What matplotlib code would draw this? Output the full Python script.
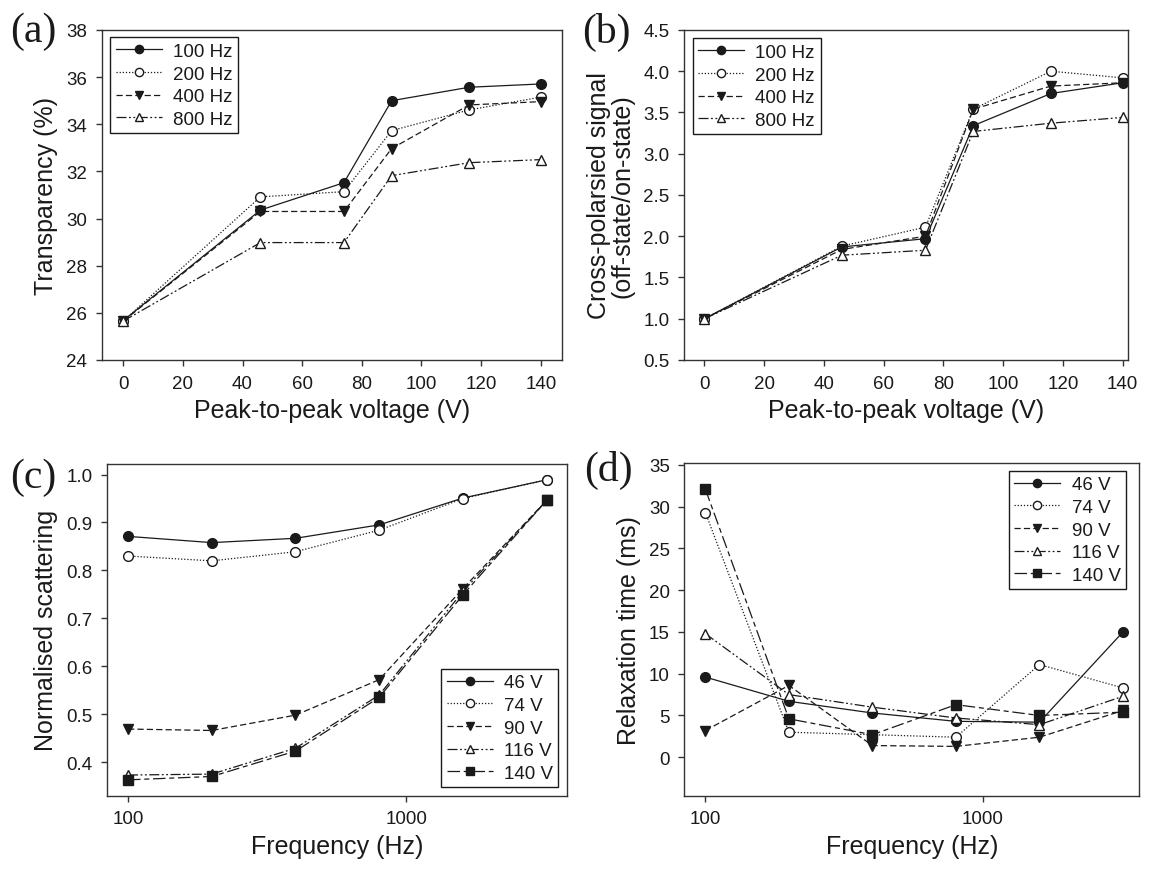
import matplotlib
matplotlib.use("Agg")
import matplotlib.pyplot as plt
from matplotlib.ticker import FixedLocator, FixedFormatter, NullLocator, FormatStrFormatter

# ---------------- data ----------------
voltage = [0, 46, 74, 90, 116, 140]
trans_100 = [25.67, 30.36, 31.52, 35.00, 35.57, 35.71]
trans_200 = [25.65, 30.92, 31.14, 33.73, 34.61, 35.15]
trans_400 = [25.65, 30.30, 30.30, 32.97, 34.82, 34.96]
trans_800 = [25.65, 28.98, 28.98, 31.82, 32.37, 32.50]

cross_100 = [1.00, 1.87, 1.97, 3.34, 3.73, 3.86]
cross_200 = [1.00, 1.88, 2.11, 3.54, 4.00, 3.92]
cross_400 = [1.00, 1.84, 2.00, 3.54, 3.82, 3.86]
cross_800 = [1.00, 1.77, 1.83, 3.27, 3.37, 3.44]

freq = [100, 200, 400, 800, 1600, 3200]
scat_46 = [0.871, 0.858, 0.867, 0.895, 0.951, 0.989]
scat_74 = [0.830, 0.820, 0.839, 0.884, 0.950, 0.989]
scat_90 = [0.469, 0.466, 0.498, 0.572, 0.762, 0.946]
scat_116 = [0.373, 0.375, 0.429, 0.540, 0.756, 0.946]
scat_140 = [0.363, 0.370, 0.423, 0.535, 0.749, 0.946]

relax_46 = [9.6, 6.7, 5.3, 4.3, 4.2, 15.0]
relax_74 = [29.3, 3.0, 2.7, 2.4, 11.1, 8.3]
relax_90 = [3.2, 8.6, 1.4, 1.3, 2.4, 5.6]
relax_116 = [14.8, 7.5, 6.0, 4.7, 3.9, 7.3]
relax_140 = [32.1, 4.6, 2.7, 6.3, 5.0, 5.4]

freq_labels = ["100 Hz", "200 Hz", "400 Hz", "800 Hz"]
volt_labels = ["46 V", "74 V", "90 V", "116 V", "140 V"]

# ---------------- style ----------------
plt.rcParams['font.family'] = ['Liberation Sans', 'DejaVu Sans']
INK = '#1a1a1a'
SPINE = '#333333'

styles = [
    dict(ls='-', marker='o', mfc=INK),
    dict(ls=(0, (1, 1.5)), marker='o', mfc='white'),
    dict(ls=(0, (5, 2.5)), marker='v', mfc=INK),
    dict(ls=(0, (8, 2, 1.5, 2, 1.5, 2)), marker='^', mfc='white'),
    dict(ls=(0, (10, 3, 4, 3)), marker='s', mfc=INK),
]

fig = plt.figure(figsize=(11.51, 8.70), dpi=100)
pos = {
    'a': [0.0884, 0.5851, 0.4001, 0.3793],
    'b': [0.5944, 0.5851, 0.3856, 0.3793],
    'c': [0.0932, 0.0843, 0.3992, 0.3812],
    'd': [0.5947, 0.0843, 0.3949, 0.3820],
}


def style_axes(ax):
    for s in ax.spines.values():
        s.set_color(SPINE)
        s.set_linewidth(1.0)
    ax.tick_params(direction='out', length=4.5, width=1.0, color=SPINE,
                   labelsize=13.5, labelcolor=INK, top=False, right=False)
    ax.tick_params(axis='x', pad=6)
    ax.tick_params(axis='y', pad=6)


def draw(ax, x, series, labels):
    for i, (y, lab) in enumerate(zip(series, labels)):
        st = styles[i]
        ax.plot(x, y, color=INK, lw=0.9, ls=st['ls'], marker=st['marker'],
                ms=7.0, mfc=st['mfc'], mec=INK, mew=1.0, label=lab)


def legend(ax, loc, anchor):
    leg = ax.legend(loc=loc, bbox_to_anchor=anchor, fontsize=13.5,
                    frameon=True, fancybox=False, framealpha=1,
                    edgecolor=INK, handlelength=2.45, handletextpad=0.6,
                    labelspacing=0.29, borderpad=0.3, borderaxespad=0.0,
                    markerscale=0.85)
    leg.get_frame().set_linewidth(1.0)
    for t in leg.get_texts():
        t.set_color(INK)
    return leg


# (a)
ax = fig.add_axes(pos['a'])
draw(ax, voltage, [trans_100, trans_200, trans_400, trans_800], freq_labels)
ax.set_xlim(-7.2, 147.2)
ax.set_ylim(24, 38)
ax.set_xticks(range(0, 141, 20))
ax.set_yticks(range(24, 39, 2))
ax.set_xlabel("Peak-to-peak voltage (V)", fontsize=18, color=INK, labelpad=5)
ax.set_ylabel("Transparency (%)", fontsize=18, color=INK, labelpad=6)
style_axes(ax)
legend(ax, 'upper left', (0.018, 0.978))

# (b)
ax = fig.add_axes(pos['b'])
draw(ax, voltage, [cross_100, cross_200, cross_400, cross_800], freq_labels)
ax.set_xlim(-6.8, 141.8)
ax.set_ylim(0.5, 4.5)
ax.set_xticks(range(0, 141, 20))
ax.set_yticks([0.5, 1.0, 1.5, 2.0, 2.5, 3.0, 3.5, 4.0, 4.5])
ax.yaxis.set_major_formatter(FormatStrFormatter('%.1f'))
ax.set_xlabel("Peak-to-peak voltage (V)", fontsize=18, color=INK, labelpad=5)
ax.set_ylabel("Cross-polarsied signal\n(off-state/on-state)", fontsize=18,
              color=INK, labelpad=6, linespacing=1.0)
style_axes(ax)
legend(ax, 'upper left', (0.019, 0.975))

# (c)
ax = fig.add_axes(pos['c'])
draw(ax, freq, [scat_46, scat_74, scat_90, scat_116, scat_140], volt_labels)
ax.set_xscale('log')
ax.set_xlim(84.2, 3780)
ax.set_ylim(0.33, 1.022)
ax.xaxis.set_major_locator(FixedLocator([100, 1000]))
ax.xaxis.set_major_formatter(FixedFormatter(["100", "1000"]))
ax.xaxis.set_minor_locator(NullLocator())
ax.set_yticks([0.4, 0.5, 0.6, 0.7, 0.8, 0.9, 1.0])
ax.yaxis.set_major_formatter(FormatStrFormatter('%.1f'))
ax.set_xlabel("Frequency (Hz)", fontsize=18, color=INK, labelpad=5)
ax.set_ylabel("Normalised scattering", fontsize=18, color=INK, labelpad=6)
style_axes(ax)
legend(ax, 'lower right', (0.982, 0.025))

# (d)
ax = fig.add_axes(pos['d'])
draw(ax, freq, [relax_46, relax_74, relax_90, relax_116, relax_140], volt_labels)
ax.set_xscale('log')
ax.set_xlim(84.1, 3657)
ax.set_ylim(-4.6, 35.2)
ax.xaxis.set_major_locator(FixedLocator([100, 1000]))
ax.xaxis.set_major_formatter(FixedFormatter(["100", "1000"]))
ax.xaxis.set_minor_locator(NullLocator())
ax.set_yticks(range(0, 36, 5))
ax.set_xlabel("Frequency (Hz)", fontsize=18, color=INK, labelpad=5)
ax.set_ylabel("Relaxation time (ms)", fontsize=18, color=INK, labelpad=6)
style_axes(ax)
legend(ax, 'upper right', (0.972, 0.978))

# panel letters
for txt, x, y in [("(a)", 33, 32), ("(b)", 606, 32), ("(c)", 33, 478), ("(d)", 608, 470)]:
    fig.text(x / 1151, 1 - y / 870, txt, fontsize=30, color=INK,
             family=['Liberation Serif', 'DejaVu Serif'], ha='center', va='center')

fig.savefig("out.png", dpi=100, facecolor='white')
